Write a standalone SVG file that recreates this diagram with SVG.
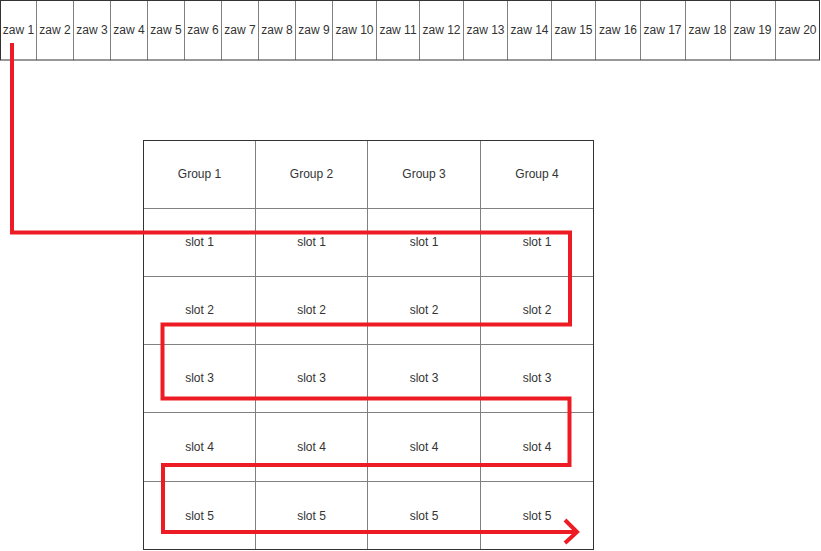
<svg xmlns="http://www.w3.org/2000/svg" width="821" height="551" viewBox="0 0 821 551">
<style>
text{font-family:"Liberation Sans",Arial,sans-serif;font-size:12px;fill:#333;text-anchor:middle;dominant-baseline:central}
.in{stroke:#808080;stroke-width:1;fill:none}
.out{stroke:#333;stroke-width:1;fill:none}
.red{stroke:#ED1C24;stroke-width:4;fill:none;stroke-linejoin:miter}
</style>
<rect width="821" height="551" fill="#fff"/>
<g id="tasks">
<path class="in" d="M36.5,0.5V60M73.5,0.5V60M110.5,0.5V60M147.5,0.5V60M184.5,0.5V60M221.5,0.5V60M258.5,0.5V60M295.5,0.5V60M332.5,0.5V60M376.5,0.5V60M419.5,0.5V60M463.5,0.5V60M507.5,0.5V60M551.5,0.5V60M595.5,0.5V60M640.5,0.5V60M685.5,0.5V60M730.5,0.5V60M775.5,0.5V60"/>
<rect class="out" x="0.5" y="0.5" width="819" height="59.5"/>
<text x="18.5" y="30">zaw 1</text>
<text x="55" y="30">zaw 2</text>
<text x="92" y="30">zaw 3</text>
<text x="129" y="30">zaw 4</text>
<text x="166" y="30">zaw 5</text>
<text x="203" y="30">zaw 6</text>
<text x="240" y="30">zaw 7</text>
<text x="277" y="30">zaw 8</text>
<text x="314" y="30">zaw 9</text>
<text x="354.5" y="30">zaw 10</text>
<text x="398" y="30">zaw 11</text>
<text x="441.5" y="30">zaw 12</text>
<text x="485.5" y="30">zaw 13</text>
<text x="529.5" y="30">zaw 14</text>
<text x="573.5" y="30">zaw 15</text>
<text x="618" y="30">zaw 16</text>
<text x="662.5" y="30">zaw 17</text>
<text x="707.5" y="30">zaw 18</text>
<text x="752.5" y="30">zaw 19</text>
<text x="797.5" y="30">zaw 20</text>
</g>
<g id="groups">
<path class="in" d="M255.5,140.5V549.5M367.5,140.5V549.5M480.5,140.5V549.5M143.5,208.5H593.5M143.5,276.5H593.5M143.5,344.5H593.5M143.5,412.5H593.5M143.5,481.5H593.5"/>
<rect class="out" x="143.5" y="140.5" width="450" height="409"/>
<text x="199.5" y="174">Group 1</text>
<text x="311.5" y="174">Group 2</text>
<text x="424" y="174">Group 3</text>
<text x="537" y="174">Group 4</text>
<text x="199.5" y="242">slot 1</text>
<text x="311.5" y="242">slot 1</text>
<text x="424" y="242">slot 1</text>
<text x="537" y="242">slot 1</text>
<text x="199.5" y="310">slot 2</text>
<text x="311.5" y="310">slot 2</text>
<text x="424" y="310">slot 2</text>
<text x="537" y="310">slot 2</text>
<text x="199.5" y="378">slot 3</text>
<text x="311.5" y="378">slot 3</text>
<text x="424" y="378">slot 3</text>
<text x="537" y="378">slot 3</text>
<text x="199.5" y="447">slot 4</text>
<text x="311.5" y="447">slot 4</text>
<text x="424" y="447">slot 4</text>
<text x="537" y="447">slot 4</text>
<text x="199.5" y="515.5">slot 5</text>
<text x="311.5" y="515.5">slot 5</text>
<text x="424" y="515.5">slot 5</text>
<text x="537" y="515.5">slot 5</text>
</g>
<g id="connectors">
<path class="red" d="M12,43V232.5H570V324.5H162.5V398.5H569.5V465H163V532H577"/>
<path class="red" d="M565,520L577,532L565,543"/>
</g>
</svg>
